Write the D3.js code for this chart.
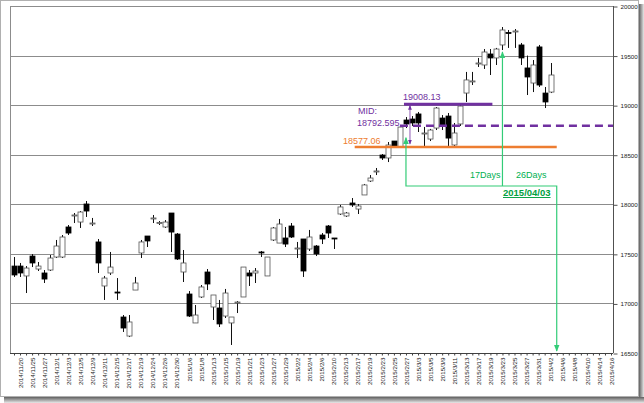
<!DOCTYPE html>
<html><head><meta charset="utf-8">
<script src="https://cdn.jsdelivr.net/npm/d3@7/dist/d3.min.js"></script>
<style>
body{margin:0;background:#fff;}
svg{display:block;font-family:"Liberation Sans",Arial,sans-serif;}
</style>
</head><body>
<svg id="c" width="644" height="403"></svg>
<script>
// ---- data ----
const dates = ["2014/11/19","2014/11/20","2014/11/21","2014/11/25","2014/11/26","2014/11/27","2014/11/28",
"2014/12/1","2014/12/2","2014/12/3","2014/12/4","2014/12/5","2014/12/8","2014/12/9","2014/12/10","2014/12/11",
"2014/12/12","2014/12/15","2014/12/16","2014/12/17","2014/12/18","2014/12/19","2014/12/22","2014/12/24",
"2014/12/25","2014/12/26","2014/12/29","2014/12/30","2015/1/5","2015/1/6","2015/1/7","2015/1/8","2015/1/9",
"2015/1/13","2015/1/14","2015/1/15","2015/1/16","2015/1/19","2015/1/20","2015/1/21","2015/1/22","2015/1/23",
"2015/1/26","2015/1/27","2015/1/28","2015/1/29","2015/1/30","2015/2/2","2015/2/3","2015/2/4","2015/2/5",
"2015/2/6","2015/2/9","2015/2/10","2015/2/12","2015/2/13","2015/2/16","2015/2/17","2015/2/18","2015/2/19",
"2015/2/20","2015/2/23","2015/2/24","2015/2/25","2015/2/26","2015/2/27","2015/3/2","2015/3/3","2015/3/4",
"2015/3/5","2015/3/6","2015/3/9","2015/3/10","2015/3/11","2015/3/12","2015/3/13","2015/3/16","2015/3/17",
"2015/3/18","2015/3/19","2015/3/20","2015/3/23","2015/3/24","2015/3/25","2015/3/26","2015/3/27","2015/3/30",
"2015/3/31","2015/4/1","2015/4/2","2015/4/3","2015/4/6","2015/4/7","2015/4/8","2015/4/9","2015/4/10",
"2015/4/13","2015/4/14","2015/4/15","2015/4/16"];

const openV  = [17377,17377,17277,17478,17347,17307,17337,17468,17468,17771,17887,17821,18003,17806,17620,17176,
17307,17115,16863,16671,17135,17509,17680,17852,17811,17771,17912,17700,17317,17095,16803,17065,17317,
16964,16954,16873,16803,17004,17065,17307,17307,17519,17277,17640,17609,17660,17781,17549,17650,17549,17579,
17690,17781,17660,17902,17882,18013,17952,18094,18235,18326,18497,18467,18638,18578,18850,18860,18911,18714,
18658,18769,18870,18890,18598,18810,19122,19240,19420,19405,19516,19476,19607,19733,19743,19607,19375,19223,
19587,19122,19132];
const highV  = [17468,17408,17377,17498,17418,17337,17488,17640,17690,17791,17912,17932,18033,17862,17650,17277,
17519,17256,16883,16883,17267,17640,17680,17892,17831,17841,17912,17710,17539,17125,16984,17186,17347,
17085,17035,17146,16863,17024,17367,17337,17357,17529,17468,17771,17852,17771,17811,17620,17650,17741,17589,
17710,17791,17660,17993,17922,18063,18003,18205,18295,18366,18507,18628,18638,18790,18880,18890,18931,18780,
18760,18981,18900,18921,18820,19001,19335,19335,19476,19566,19566,19577,19788,19758,19768,19627,19500,19455,
19607,19183,19425];
const lowV   = [17267,17267,17105,17367,17327,17206,17327,17458,17458,17690,17811,17761,17872,17781,17307,17035,
17287,17035,16712,16661,17135,17458,17569,17811,17791,17761,17519,17438,17216,16863,16803,17055,17135,
16833,16762,16853,16581,16903,17065,17176,17206,17468,17277,17630,17609,17569,17660,17458,17267,17529,17478,
17599,17660,17549,17892,17872,17973,17902,18094,18225,18295,18447,18426,18578,18578,18769,18790,18729,18578,
18638,18749,18749,18578,18578,18790,19032,19203,19385,19365,19304,19405,19556,19577,19577,19405,19102,19132,
19183,18971,19122];
const closeV = [17287,17307,17357,17408,17377,17246,17458,17579,17670,17710,17892,17922,17932,17811,17408,17256,
17367,17105,16752,16813,17206,17620,17630,17862,17816,17821,17720,17448,17408,16873,16883,17166,17196,
17085,16793,17105,16863,17014,17367,17277,17327,17509,17468,17761,17801,17599,17670,17559,17327,17670,17499,
17650,17710,17655,17973,17912,17993,17983,18195,18265,18336,18467,18598,18578,18779,18810,18820,18820,18719,
18749,18971,18790,18668,18719,18991,19254,19244,19425,19536,19476,19566,19758,19728,19748,19476,19284,19405,
19203,19032,19304];

const yTicks = [16500,17000,17500,18000,18500,19000,19500,20000];
const tickLabels = dates.filter((d,i)=> i % 2 === 1);

const levelHigh = 19008.13, levelMid = 18792.595, levelLow = 18577.06;
const startDate = "2015/2/27", peakDate = "2015/3/23", targetDate = "2015/4/3";

// ---- layout ----
const svg = d3.select("#c");
const L = 10, R = 613, T = 6, B = 353;
const x = d3.scalePoint().domain(dates).range([14, 611]);
const y = d3.scaleLinear().domain([16500, 20000]).range([B, T]);

// frame + shadow
const defs = svg.append("defs");
const gv = defs.append("linearGradient").attr("id","sv").attr("x1",0).attr("x2",1).attr("y1",0).attr("y2",0);
gv.append("stop").attr("offset","0").attr("stop-color","#606060");
gv.append("stop").attr("offset","1").attr("stop-color","#e8e8e8");
const gh = defs.append("linearGradient").attr("id","sh").attr("x1",0).attr("x2",0).attr("y1",0).attr("y2",1);
gh.append("stop").attr("offset","0").attr("stop-color","#606060");
gh.append("stop").attr("offset","1").attr("stop-color","#e8e8e8");
svg.append("rect").attr("x",639).attr("y",4).attr("width",5).attr("height",396).attr("fill","url(#sv)");
svg.append("rect").attr("x",4).attr("y",397).attr("width",640).attr("height",6).attr("fill","url(#sh)");
svg.append("rect").attr("x",0.5).attr("y",0.5).attr("width",638).attr("height",396)
  .attr("fill","#fff").attr("stroke","#b0b0b0");

// gridlines
svg.append("g").selectAll("line").data(yTicks).join("line")
  .attr("x1",L).attr("x2",R).attr("y1",d=>Math.round(y(d))+0.5).attr("y2",d=>Math.round(y(d))+0.5)
  .attr("stroke","#8c8c8c").attr("stroke-width",1);

// left & right borders
svg.append("line").attr("x1",L+0.5).attr("x2",L+0.5).attr("y1",T).attr("y2",B).attr("stroke","#8c8c8c");
svg.append("line").attr("x1",R+0.5).attr("x2",R+0.5).attr("y1",T).attr("y2",B).attr("stroke","#505050");

// right y axis
const yAxis = d3.axisRight(y).tickValues(yTicks).tickSize(4).tickFormat(d3.format("d"));
const ga = svg.append("g").attr("transform",`translate(${R+0.5},0.5)`).call(yAxis);
ga.select(".domain").remove();
ga.selectAll(".tick line").attr("stroke","#505050");
ga.selectAll(".tick text").attr("x",7).attr("font-size","6.2px").attr("fill","#222").attr("font-family","Liberation Sans, Arial");

// bottom x axis
const xAxis = d3.axisBottom(x).tickValues(dates).tickSize(2).tickFormat(d => tickLabels.includes(d) ? d : "");
const gx = svg.append("g").attr("transform",`translate(0,${B+0.5})`).call(xAxis);
gx.select(".domain").attr("d",`M${L},0H${R}`).attr("stroke","#404040");
gx.selectAll(".tick line").attr("stroke","#404040");
gx.selectAll(".tick text").attr("font-size","6.2px").attr("fill","#222").attr("font-family","Liberation Sans, Arial")
  .attr("transform","rotate(-90)").attr("text-anchor","end").attr("x",-4).attr("y",0).attr("dy","0.35em");

// candles
const candles = dates.slice(0, openV.length).map((d,i)=>({d, o:openV[i], h:highV[i], l:lowV[i], c:closeV[i]}));
const bw = 5;
const gc = svg.append("g");
gc.selectAll("line").data(candles).join("line")
  .attr("x1",d=>Math.round(x(d.d))+0.5).attr("x2",d=>Math.round(x(d.d))+0.5)
  .attr("y1",d=>y(d.h)).attr("y2",d=>y(d.l)).attr("stroke","#111").attr("stroke-width",1);
gc.selectAll("rect").data(candles).join("rect")
  .attr("x",d=>Math.round(x(d.d))-2+0.5-0.5)
  .attr("y",d=>y(Math.max(d.o,d.c)))
  .attr("width",bw)
  .attr("height",d=>Math.max(1, Math.abs(y(d.o)-y(d.c))))
  .attr("fill",d=> d.c < d.o ? "#000" : "#fff")
  .attr("stroke",d=> d.c < d.o ? "#000" : "#555")
  .attr("stroke-width",0.8);

// annotations
const purple = "#7030A0", orange = "#ED7D31", green = "#33CC77", gText = "#00B050";
// markers
function marker(id, color){
  defs.append("marker").attr("id",id).attr("viewBox","0 0 10 10").attr("refX",9).attr("refY",5)
    .attr("markerWidth",6).attr("markerHeight",6).attr("orient","auto-start-reverse")
    .append("path").attr("d","M0,1L10,5L0,9z").attr("fill",color);
}
marker("ag", green); marker("ap", purple);

// orange low line
svg.append("line").attr("x1",x("2015/2/16")+3).attr("x2",x(targetDate)).attr("y1",y(levelLow)).attr("y2",y(levelLow))
  .attr("stroke",orange).attr("stroke-width",2.5);
// purple high line
svg.append("line").attr("x1",x(startDate)-2).attr("x2",x("2015/3/19")+2).attr("y1",y(levelHigh)).attr("y2",y(levelHigh))
  .attr("stroke",purple).attr("stroke-width",3);
// purple dashed mid line
svg.append("line").attr("x1",x("2015/2/26")).attr("x2",R).attr("y1",y(levelMid)).attr("y2",y(levelMid))
  .attr("stroke",purple).attr("stroke-width",2.5).attr("stroke-dasharray","8,5");
// purple double arrow
svg.append("line").attr("x1",x(startDate)+4).attr("x2",x(startDate)+4)
  .attr("y1",y(levelHigh)+1).attr("y2",y(levelLow)-3)
  .attr("stroke",purple).attr("stroke-width",0.8)
  .attr("marker-start","url(#ap)").attr("marker-end","url(#ap)");

// green connector from 2/27 to 4/3
const yH = 186;
svg.append("path")
  .attr("d",`M${x(targetDate)},${B-2}V${yH}H${x(startDate)}V${y(levelMid)+12}`)
  .attr("fill","none").attr("stroke",green).attr("stroke-width",1.2)
  .attr("marker-start","url(#ag)").attr("marker-end","url(#ag)");
// green line from 3/23 peak
svg.append("path")
  .attr("d",`M${x(peakDate)},${yH}V${y(19758)+22}`)
  .attr("fill","none").attr("stroke",green).attr("stroke-width",1.2)
  .attr("marker-end","url(#ag)");

// texts
const ft = "9px";
svg.append("text").attr("x",403).attr("y",100).text("19008.13").attr("fill",purple).attr("font-size",ft);
svg.append("text").attr("x",358).attr("y",114).text("MID:").attr("fill",purple).attr("font-size",ft);
svg.append("text").attr("x",357).attr("y",125.5).text("18792.595").attr("fill",purple).attr("font-size",ft);
svg.append("text").attr("x",343).attr("y",143.5).text("18577.06").attr("fill",orange).attr("font-size",ft);
svg.append("text").attr("x",470).attr("y",178).text("17Days").attr("fill",gText).attr("font-size",ft);
svg.append("text").attr("x",516).attr("y",178).text("26Days").attr("fill",gText).attr("font-size",ft);
svg.append("text").attr("x",503).attr("y",196).text("2015/04/03").attr("fill","#00A040")
  .attr("font-size","9.5px").attr("font-weight","bold").attr("text-decoration","underline");
</script>
</body></html>
